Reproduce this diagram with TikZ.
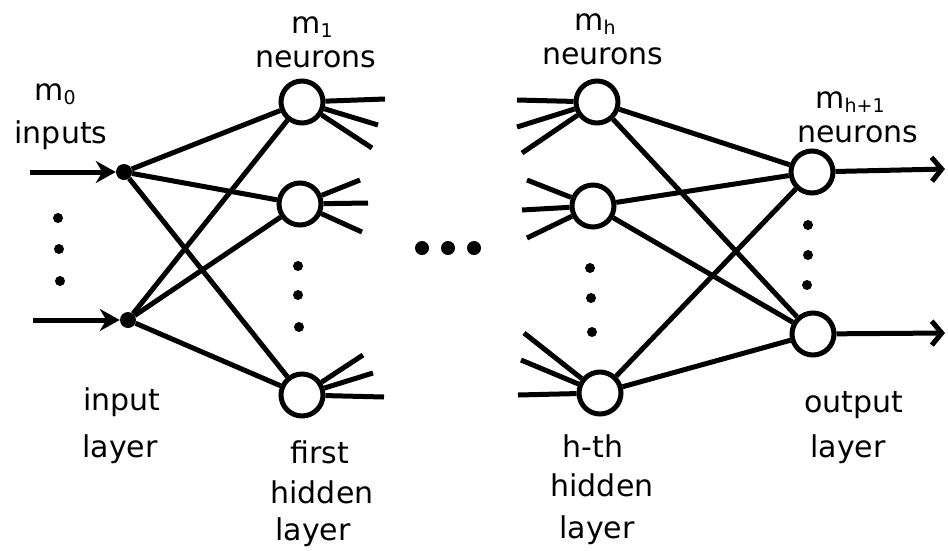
\documentclass[tikz,border=0pt]{standalone}
\usepackage{fontspec}
\setmainfont{DejaVu Sans}
\usetikzlibrary{arrows.meta}
\newcommand{\lsub}[1]{\raisebox{-4pt}{\fontsize{19}{19}\selectfont #1}}
\begin{document}
\begin{tikzpicture}[x=1pt,y=-1pt,
  neuron/.style={circle,draw,line width=5pt,minimum size=42pt,inner sep=0pt},
  inpt/.style={circle,fill,minimum size=16pt,inner sep=0pt},
  bigdot/.style={circle,fill,minimum size=14pt,inner sep=0pt},
  smalldot/.style={circle,fill,minimum size=10pt,inner sep=0pt},
  conn/.style={line width=5pt},
  fan/.style={line width=5pt},
  inarrow/.style={line width=5pt,-{Stealth[length=20pt,width=22pt]}},
  outarrow/.style={line width=5pt,-{Straight Barb[length=10pt,width=24pt]}},
  lbl/.style={anchor=base,inner sep=0pt,font=\fontsize{30}{32}\selectfont}
]
\useasboundingbox (0,0) rectangle (948,550);
\fill[white] (0,0) rectangle (948,550);

% input layer
\node[inpt] (i1) at (124,172) {};
\node[inpt] (i2) at (128,320) {};
\coordinate (s1) at (30,172);
\coordinate (s2) at (33,320);
\draw[inarrow] (s1) -- (i1);
\draw[inarrow] (s2) -- (i2);
\node[smalldot] (id1) at (58,218) {};
\node[smalldot] (id2) at (59,249) {};
\node[smalldot] (id3) at (60,281) {};

% first hidden layer
\node[neuron] (a1) at (302,102) {};
\node[neuron] (a2) at (300,204) {};
\node[neuron] (a3) at (302,395) {};
\node[smalldot] (ad1) at (298,266) {};
\node[smalldot] (ad2) at (298,295) {};
\node[smalldot] (ad3) at (299,327) {};

% middle dots
\node[bigdot] (m1) at (422,248) {};
\node[bigdot] (m2) at (448,248) {};
\node[bigdot] (m3) at (474,248) {};

% h-th hidden layer
\node[neuron] (b1) at (597,102) {};
\node[neuron] (b2) at (593,206) {};
\node[neuron] (b3) at (600,393) {};
\node[smalldot] (bd1) at (590,268) {};
\node[smalldot] (bd2) at (591,298) {};
\node[smalldot] (bd3) at (592,332) {};

% output layer
\node[neuron] (c1) at (812,172) {};
\node[neuron] (c2) at (813,334) {};
\node[smalldot] (cd1) at (808,225) {};
\node[smalldot] (cd2) at (808,255) {};
\node[smalldot] (cd3) at (807,285) {};
\coordinate (e1) at (945,169);
\coordinate (e2) at (945,333);
\draw[outarrow] (c1) -- (e1);
\draw[outarrow] (c2) -- (e2);

% connections input -> first hidden
\foreach \s in {i1,i2}
  \foreach \t in {a1,a2,a3}
    \draw[conn] (\s) -- (\t);

% connections h-th hidden -> output
\foreach \s in {b1,b2,b3}
  \foreach \t in {c1,c2}
    \draw[conn] (\s) -- (\t);

% fans on the right of first hidden layer
\coordinate (fa1) at (385,99);
\coordinate (fa2) at (378,125);
\coordinate (fa3) at (372,148);
\coordinate (fb1) at (360,180);
\coordinate (fb2) at (368,203);
\coordinate (fb3) at (362,232);
\coordinate (fc1) at (363,355);
\coordinate (fc2) at (373,373);
\coordinate (fc3) at (384,397);
\foreach \f in {fa1,fa2,fa3} \draw[fan] (a1) -- (\f);
\foreach \f in {fb1,fb2,fb3} \draw[fan] (a2) -- (\f);
\foreach \f in {fc1,fc2,fc3} \draw[fan] (a3) -- (\f);

% fans on the left of h-th hidden layer
\coordinate (ga1) at (517,100);
\coordinate (ga2) at (517,127);
\coordinate (ga3) at (522,153);
\coordinate (gb1) at (527,180);
\coordinate (gb2) at (522,210);
\coordinate (gb3) at (527,238);
\coordinate (gc1) at (524,333);
\coordinate (gc2) at (521,360);
\coordinate (gc3) at (518,395);
\foreach \f in {ga1,ga2,ga3} \draw[fan] (b1) -- (\f);
\foreach \f in {gb1,gb2,gb3} \draw[fan] (b2) -- (\f);
\foreach \f in {gc1,gc2,gc3} \draw[fan] (b3) -- (\f);

% labels
\node[lbl] (t1) at (55,100) {m\lsub{0}};
\node[lbl] (t2) at (61,143) {inputs};
\node[lbl] (t3) at (312,33) {m\lsub{1}};
\node[lbl] (t4) at (316,67) {neurons};
\node[lbl] (t5) at (595,30) {m\lsub{h}};
\node[lbl] (t6) at (603,64) {neurons};
\node[lbl] (t7) at (850,108) {m\lsub{h+1}};
\node[lbl] (t8) at (858,142) {neurons};
\node[lbl] (t9) at (122,410) {input};
\node[lbl] (t10) at (120,457) {layer};
\node[lbl] (t11) at (320,463) {first};
\node[lbl] (t12) at (322,503) {hidden};
\node[lbl] (t13) at (313,540) {layer};
\node[lbl] (t14) at (593,457) {h-th};
\node[lbl] (t15) at (602,496) {hidden};
\node[lbl] (t16) at (597,538) {layer};
\node[lbl] (t17) at (854,412) {output};
\node[lbl] (t18) at (848,457) {layer};
\end{tikzpicture}
\end{document}
